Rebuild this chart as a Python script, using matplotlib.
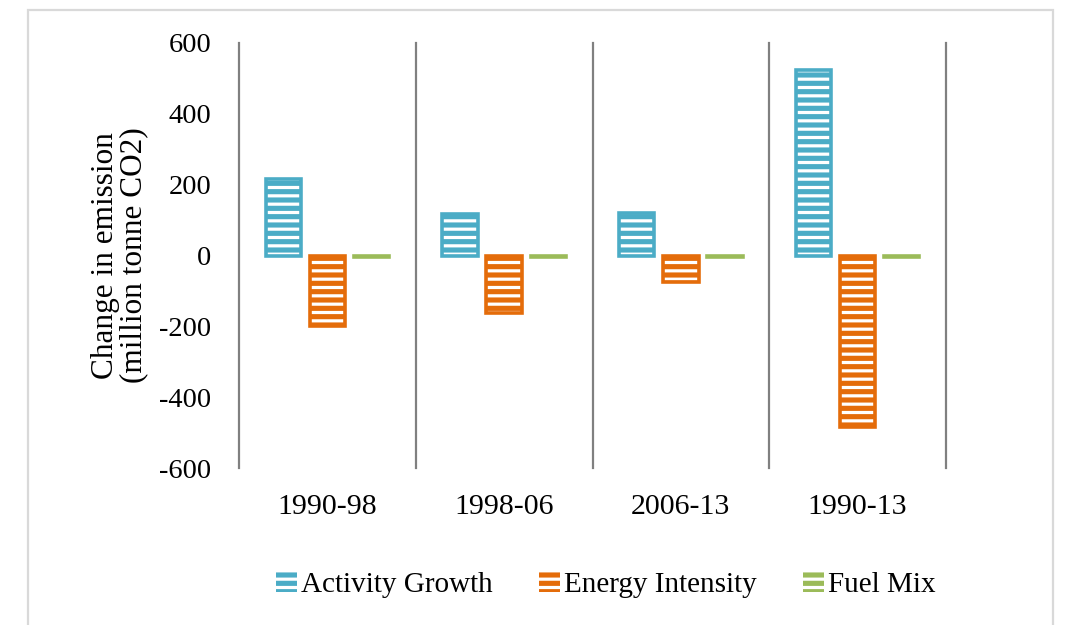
import numpy as np
import matplotlib
matplotlib.use("Agg")
import matplotlib.pyplot as plt
from matplotlib.patches import Rectangle

# ── Data ──────────────────────────────────────────────────────────────────
periods = ["1990-98", "1998-06", "2006-13", "1990-13"]
activity_growth = [215, 116, 121, 525]
energy_intensity = [-200, -161, -76, -483]
fuel_mix = [-4, -3, -3, -5]

series = ["Activity Growth", "Energy Intensity", "Fuel Mix"]
COLORS = ["#4BACC6", "#E46C0A", "#9BBB59"]

# ── Style ─────────────────────────────────────────────────────────────────
plt.rcParams.update({
    "font.family": ["Liberation Serif", "DejaVu Serif"],
    "font.size": 20.5,
    "axes.unicode_minus": False,
    "hatch.color": "white",
    "hatch.linewidth": 2.3,
})

fig = plt.figure(figsize=(10.74, 6.25), dpi=100)
ax = fig.add_axes([239 / 1074, 1 - 468 / 625, (946 - 239) / 1074, (468 - 43) / 625])

# outer light-grey frame (open at the bottom, as in the source)
fig.patches.append(Rectangle((28 / 1074, -0.05), (1053 - 28) / 1074, 1.05 - 10 / 625,
                             transform=fig.transFigure, fill=False,
                             edgecolor="#d9d9d9", linewidth=1.6, zorder=0))

x = np.arange(len(periods))
width = 0.2
step = 0.25

for i, (vals, name, col) in enumerate(zip([activity_growth, energy_intensity, fuel_mix],
                                          series, COLORS)):
    pos = x + (i - 1) * step
    ax.bar(pos, vals, width, color=col, hatch="--", zorder=3)
    ax.bar(pos, vals, width, facecolor="none", edgecolor=col, linewidth=2.6, zorder=4)

for b in np.arange(-0.5, len(periods), 1.0):
    ax.axvline(b, color="#808080", linewidth=1.6, zorder=1, clip_on=False)

ax.set_xlim(-0.5, len(periods) - 0.5)
ax.set_ylim(-600, 600)
ax.set_yticks(np.arange(-600, 601, 200))
ax.set_xticks(x)
ax.set_xticklabels(periods, fontsize=21.5)
ax.tick_params(length=0)
ax.tick_params(axis="y", pad=20)
ax.tick_params(axis="x", pad=19)
for s in ax.spines.values():
    s.set_visible(False)

ax.set_ylabel("Change in emission\n(million tonne CO2)", fontsize=22.5, labelpad=8,
              linespacing=0.95)

# legend swatches: filled square with white stripes (hatch colour from rcParams)
handles = [Rectangle((0, 0), 1, 1, facecolor=c, hatch="--") for c in COLORS]
fig.legend(handles, series, loc="center", bbox_to_anchor=(606 / 1074, 1 - 585 / 625),
           ncol=3, frameon=False, handlelength=0.7, handleheight=0.7,
           handletextpad=0.15, columnspacing=1.6, fontsize=21)

fig.savefig("out.png", dpi=100)
